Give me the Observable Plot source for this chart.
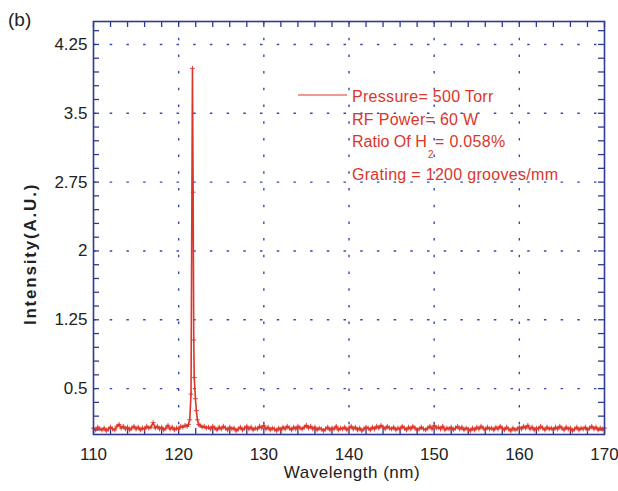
<!DOCTYPE html>
<html>
<head>
<meta charset="utf-8">
<script src="https://cdn.jsdelivr.net/npm/d3@7"></script>
<script src="https://cdn.jsdelivr.net/npm/@observablehq/plot@0.6"></script>
<style>
  html, body { margin: 0; padding: 0; background: #fff; }
  #chart { width: 618px; height: 491px; }
</style>
</head>
<body>
<div id="chart"></div>
<script>
// ---- Data ----
const xMajor = [110, 120, 130, 140, 150, 160, 170];
const xGridLines = [120, 130, 140, 150, 160];
const xMinor = [110,112,114,116,118,120,122,124,126,128,130,132,134,136,138,140,142,144,146,148,150,152,154,156,158,160,162,164,166,168,170];
const yMajor = [0.5, 1.25, 2, 2.75, 3.5, 4.25];
const yTickLabels = ["0.5", "1.25", "2", "2.75", "3.5", "4.25"];
const yMinor = [0.05,0.2,0.35,0.5,0.65,0.8,0.95,1.1,1.25,1.4,1.55,1.7,1.85,2,2.15,2.3,2.45,2.6,2.75,2.9,3.05,3.2,3.35,3.5,3.65,3.8,3.95,4.1,4.25,4.4];

// baseline before the Lyman-alpha peak: 110.00 .. 121.00 every 0.25 nm
const leftStart = 110, leftStep = 0.25;
const leftValues = [
  0.07,0.05,0.08,0.06,0.05,0.07,0.04,0.06,0.08,0.06,
  0.05,0.09,0.11,0.07,0.09,0.06,0.08,0.05,0.07,0.09,
  0.06,0.08,0.05,0.07,0.06,0.09,0.07,0.08,0.13,0.07,
  0.09,0.06,0.08,0.05,0.07,0.10,0.06,0.08,0.05,0.07,
  0.06,0.09,0.08,0.10,0.09
];
// peak region
const peakWavelengths = [121.15, 121.30, 121.45, 121.62, 121.70, 121.77, 121.83, 121.97, 122.08, 122.20, 122.35];
const peakValues      = [0.11,   0.16,   0.44,   3.99,   2.64,   1.03,   0.62,   0.39,   0.26,   0.16,   0.11];
// baseline after the peak: 122.50 .. 170.00 every 0.25 nm
const rightStart = 122.5, rightStep = 0.25;
const rightValues = [
  0.10,0.08,0.09,0.07,0.08,0.06,0.09,0.07,0.05,0.08,
  0.06,0.09,0.07,0.05,0.08,0.06,0.07,0.04,0.06,0.08,
  0.05,0.07,0.09,0.06,0.08,0.05,0.07,0.06,0.09,0.07,
  0.10,0.06,0.08,0.05,0.07,0.06,0.04,0.07,0.05,0.08,
  0.06,0.09,0.07,0.05,0.08,0.06,0.09,0.07,0.06,0.08,
  0.10,0.07,0.09,0.06,0.08,0.05,0.07,0.06,0.04,0.06,
  0.08,0.05,0.07,0.06,0.09,0.05,0.07,0.06,0.08,0.05,
  0.07,0.09,0.06,0.08,0.05,0.07,0.04,0.06,0.08,0.07,
  0.05,0.08,0.06,0.09,0.07,0.10,0.08,0.06,0.09,0.07,
  0.06,0.08,0.05,0.07,0.06,0.09,0.07,0.05,0.08,0.06,
  0.09,0.07,0.05,0.06,0.08,0.06,0.05,0.07,0.09,0.06,
  0.10,0.07,0.08,0.06,0.09,0.05,0.07,0.06,0.08,0.05,
  0.07,0.09,0.06,0.08,0.05,0.07,0.06,0.04,0.07,0.05,
  0.08,0.06,0.09,0.07,0.05,0.08,0.06,0.07,0.05,0.08,
  0.06,0.09,0.07,0.05,0.08,0.06,0.04,0.07,0.05,0.06,
  0.08,0.06,0.09,0.07,0.10,0.06,0.08,0.05,0.07,0.06,
  0.09,0.07,0.05,0.08,0.06,0.07,0.05,0.08,0.06,0.09,
  0.07,0.05,0.08,0.06,0.07,0.04,0.06,0.08,0.05,0.07,
  0.06,0.08,0.05,0.07,0.09,0.06,0.08,0.05,0.07,0.06,
  0.07
];
const legendLines = ["Pressure= 500 Torr", "RF Power= 60 W", "Ratio Of H", "= 0.058%", "Grating = 1200 grooves/mm"];
const panelLabel = "(b)";
const xTitle = "Wavelength (nm)";
const yTitle = "Intensity(A.U.)";

// ---- build table ----
const spectrum = [
  ...leftValues.map((v, i) => ({w: leftStart + i * leftStep, v})),
  ...peakWavelengths.map((w, i) => ({w, v: peakValues[i]})),
  ...rightValues.map((v, i) => ({w: rightStart + i * rightStep, v}))
];

// ---- styles ----
const W = 618, H = 491;
const mL = 93, mR = 14, mT = 21, mB = 57;
const frameW = W - mL - mR, frameH = H - mT - mB;
const axisColor = "#2e3b95";
const gridColor = "#3548bb";
const red = "#dc352b";
const font = "'Liberation Sans', Arial, Helvetica, sans-serif";
const tickLen = 6;

const chart = Plot.plot({
  width: W, height: H,
  marginLeft: mL, marginRight: mR, marginTop: mT, marginBottom: mB,
  style: {fontFamily: font, fontSize: "17px", color: "#222", background: "#fff"},
  x: {domain: [110, 170], ticks: xMajor, tickSize: 0, tickPadding: 13, label: null, tickFormat: d => String(d)},
  y: {domain: [0, 4.5], ticks: yMajor, tickSize: 0, tickPadding: 6, label: null,
      tickFormat: d => yTickLabels[yMajor.indexOf(d)]},
  marks: [
    Plot.ruleX(xGridLines, {stroke: gridColor, strokeWidth: 1.4, strokeDasharray: "2.5,14.2"}),
    Plot.ruleY(yMajor, {stroke: gridColor, strokeWidth: 1.4, strokeDasharray: "2.5,14.2"}),
    Plot.tickX(xMinor, {stroke: axisColor, strokeWidth: 1.3, insetTop: frameH - tickLen}),
    Plot.tickX(xMinor, {stroke: axisColor, strokeWidth: 1.3, insetBottom: frameH - tickLen}),
    Plot.tickY(yMinor, {stroke: axisColor, strokeWidth: 1.3, insetRight: frameW - tickLen}),
    Plot.tickY(yMinor, {stroke: axisColor, strokeWidth: 1.3, insetLeft: frameW - tickLen}),
    Plot.line(spectrum, {x: "w", y: "v", stroke: red, strokeWidth: 1.6}),
    Plot.dot(spectrum, {x: "w", y: "v", symbol: "plus", r: 1.7, stroke: red, strokeWidth: 0.9}),
    Plot.frame({stroke: axisColor, strokeWidth: 1.6})
  ]
});

document.getElementById("chart").appendChild(chart);

// ---- annotations ----
const svg = d3.select(chart);
svg.append("text").attr("x", 8).attr("y", 26).attr("text-anchor", "start")
  .attr("font-family", font).attr("font-size", 19).attr("fill", "#222").text(panelLabel);
svg.append("text").attr("x", 352).attr("y", 478).attr("text-anchor", "middle")
  .attr("font-family", font).attr("font-size", 17).attr("letter-spacing", "0.5px").attr("fill", "#222").text(xTitle);
svg.append("text").attr("transform", "translate(36,254) rotate(-90)").attr("text-anchor", "middle")
  .attr("font-family", font).attr("font-size", 17).attr("font-weight", "bold").attr("letter-spacing", "1.8px")
  .attr("fill", "#222").text(yTitle);

const lg = svg.append("g").attr("font-family", font).attr("font-size", 16).attr("fill", red)
  .attr("letter-spacing", "0.3px").attr("text-anchor", "start");
lg.append("line").attr("x1", 298).attr("x2", 347).attr("y1", 95).attr("y2", 95).attr("stroke", red).attr("stroke-width", 1.1);
lg.append("text").attr("x", 352).attr("y", 102).text(legendLines[0]);
lg.append("text").attr("x", 352).attr("y", 125).text(legendLines[1]);
lg.append("text").attr("x", 352).attr("y", 147).attr("letter-spacing", "0px").text(legendLines[2]);
lg.append("text").attr("x", 428).attr("y", 158).attr("font-size", 10).text("2");
lg.append("text").attr("x", 435).attr("y", 147).text(legendLines[3]);
lg.append("text").attr("x", 352).attr("y", 180).text(legendLines[4]);
</script>
</body>
</html>
